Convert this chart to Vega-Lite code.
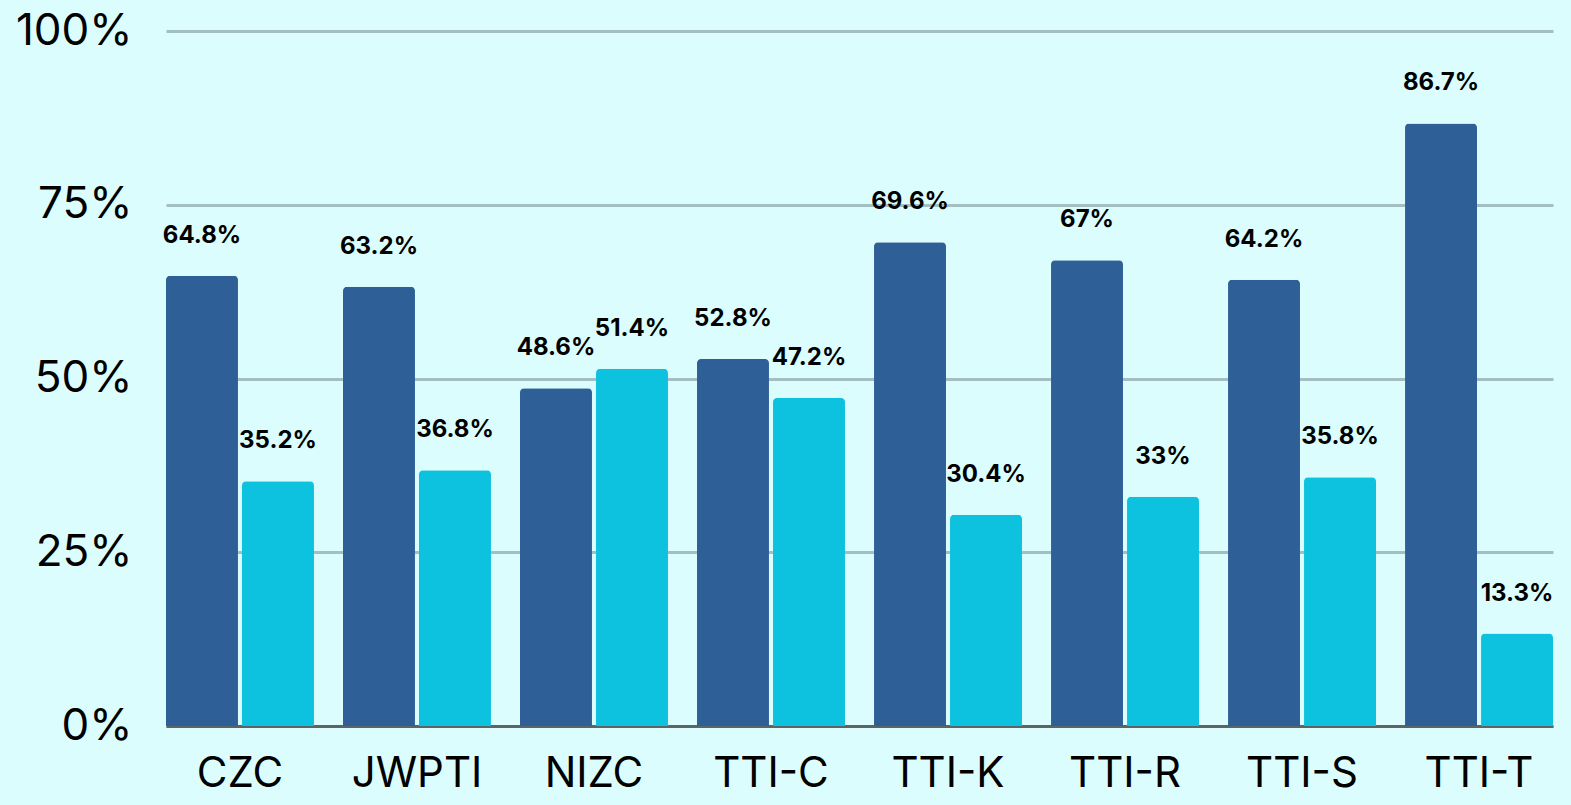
{
  "$schema": "https://vega.github.io/schema/vega-lite/v6.json",
  "autosize": {"type": "none"},
  "width": 1387,
  "height": 695,
  "padding": {"left": 166, "top": 31, "right": 18, "bottom": 79},
  "background": "#dbfdfe",
  "config": {
    "view": {"stroke": null},
    "font": "Inter"
  },
  "data": {
    "values": [
      {"site": "CZC", "series": "Series 1", "value": 0.648},
      {"site": "CZC", "series": "Series 2", "value": 0.352},
      {"site": "JWPTI", "series": "Series 1", "value": 0.632},
      {"site": "JWPTI", "series": "Series 2", "value": 0.368},
      {"site": "NIZC", "series": "Series 1", "value": 0.486},
      {"site": "NIZC", "series": "Series 2", "value": 0.514},
      {"site": "TTI-C", "series": "Series 1", "value": 0.528},
      {"site": "TTI-C", "series": "Series 2", "value": 0.472},
      {"site": "TTI-K", "series": "Series 1", "value": 0.696},
      {"site": "TTI-K", "series": "Series 2", "value": 0.304},
      {"site": "TTI-R", "series": "Series 1", "value": 0.67},
      {"site": "TTI-R", "series": "Series 2", "value": 0.33},
      {"site": "TTI-S", "series": "Series 1", "value": 0.642},
      {"site": "TTI-S", "series": "Series 2", "value": 0.358},
      {"site": "TTI-T", "series": "Series 1", "value": 0.867},
      {"site": "TTI-T", "series": "Series 2", "value": 0.133}
    ]
  },
  "encoding": {
    "x": {
      "field": "site",
      "type": "nominal",
      "sort": null,
      "scale": {"paddingInner": 0.164, "paddingOuter": 0},
      "axis": {
        "title": null,
        "labelAngle": 0,
        "labelFontSize": 42,
        "labelColor": "#000000",
        "labelPadding": 27,
        "ticks": false,
        "domain": true,
        "domainColor": "#5c6566",
        "domainWidth": 3,
        "grid": false
      }
    },
    "xOffset": {
      "field": "series",
      "type": "nominal",
      "scale": {"paddingInner": 0.053, "paddingOuter": 0}
    },
    "y": {
      "field": "value",
      "type": "quantitative",
      "scale": {"domain": [0, 1]},
      "axis": {
        "title": null,
        "values": [0, 0.25, 0.5, 0.75, 1],
        "format": "~%",
        "labelFontSize": 44,
        "labelColor": "#000000",
        "labelPadding": 34,
        "ticks": false,
        "domain": false,
        "gridColor": "#a4bfc4",
        "gridWidth": 3
      }
    }
  },
  "layer": [
    {
      "mark": {"type": "bar", "cornerRadiusTopLeft": 4, "cornerRadiusTopRight": 4},
      "encoding": {
        "color": {
          "field": "series",
          "type": "nominal",
          "scale": {"range": ["#2e5f96", "#0cc2df"]},
          "legend": null
        }
      }
    },
    {
      "mark": {"type": "text", "baseline": "alphabetic", "dy": -33, "fontSize": 24, "fontWeight": "bold", "color": "#000000"},
      "encoding": {
        "text": {"field": "value", "type": "quantitative", "format": ".1~%"}
      }
    }
  ]
}
